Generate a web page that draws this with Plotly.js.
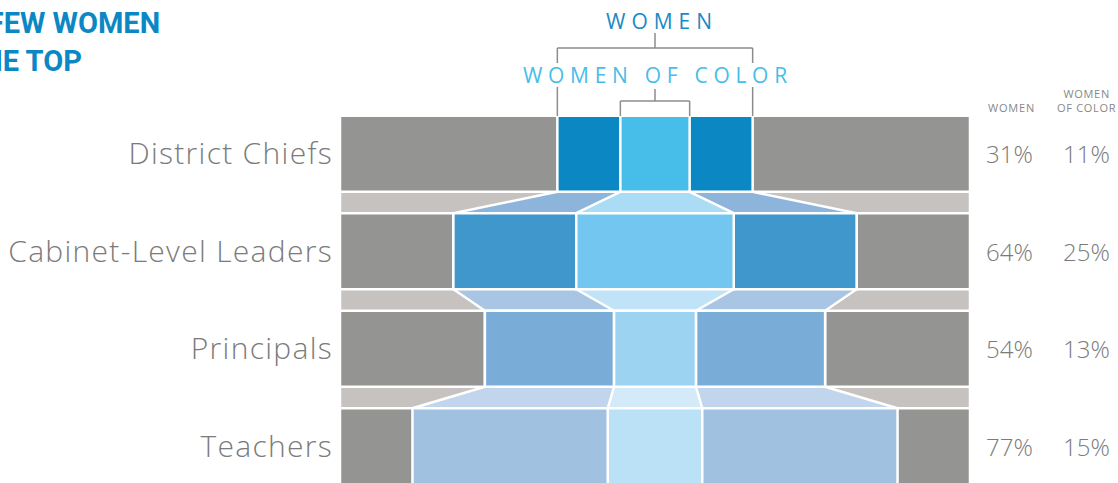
<!DOCTYPE html>
<html><head><meta charset="utf-8">
<script src="https://cdn.plot.ly/plotly-3.0.1.min.js"></script>
<style>html,body{margin:0;padding:0;background:#fff;overflow:hidden;} #chart{width:1118px;height:483px;}
#chart .ytick text{letter-spacing:1.3px;}</style>
</head><body><div id="chart"></div>
<script>
var categories = ['District Chiefs', 'Cabinet-Level Leaders', 'Principals', 'Teachers'];
var totalPct = [100, 100, 100, 100];
var womenPct = [31, 64, 54, 77];
var womenOfColorPct = [11, 25, 13, 15];
var womenLabels = ['31%', '64%', '54%', '77%'];
var wocLabels = ['11%', '25%', '13%', '15%'];

var greyColor = '#949492';
var greyConnector = '#c6c2c0';
var womenColors = ['#0b88c4', '#4097cc', '#79acd7', '#a1c1e0'];
var wocColors = ['#47bde9', '#73c6ef', '#9cd3f1', '#bae1f5'];
var womenConnectorColors = ['#8db5dc', '#a9c5e4', '#c1d6ec'];
var wocConnectorColors = ['#aadcf5', '#c0e3f7', '#d4eaf8'];

var W = 1118, H = 483, ML = 340, MR = 148, MT = 105, MB = 0;
var plotW = W - ML - MR, plotH = H - MT - MB;
function px2x(px) { return (px - ML) / plotW; }
function py2y(py) { return (H - MB - py) / plotH; }

var traces = [];
traces.push({
  type: 'funnel', orientation: 'h', y: categories, x: totalPct,
  marker: {color: greyColor, line: {color: '#ffffff', width: 2.5}},
  connector: {fillcolor: greyConnector, line: {color: '#ffffff', width: 2.5}},
  textinfo: 'none', hoverinfo: 'skip'
});
function addPairs(values, colors, connColors) {
  for (var i = 0; i < categories.length - 1; i++) {
    traces.push({
      type: 'funnel', orientation: 'h',
      y: [categories[i], categories[i + 1]],
      x: [values[i], values[i + 1]],
      marker: {color: [colors[i], colors[i + 1]], line: {color: '#ffffff', width: 2.5}},
      connector: {fillcolor: connColors[i], line: {color: '#ffffff', width: 2.5}},
      textinfo: 'none', hoverinfo: 'skip'
    });
  }
}
addPairs(womenPct, womenColors, womenConnectorColors);
addPairs(womenOfColorPct, wocColors, wocConnectorColors);

var labelFont = 'Open Sans';
var grey = '#7b7b7b';
var annotations = [];
for (var i = 0; i < categories.length; i++) {
  annotations.push({xref: 'paper', yref: 'y', x: px2x(1009), y: i, text: womenLabels[i],
    showarrow: false, xanchor: 'center', yanchor: 'middle',
    font: {family: labelFont, size: 24, color: grey, weight: 300}});
  annotations.push({xref: 'paper', yref: 'y', x: px2x(1086), y: i, text: wocLabels[i],
    showarrow: false, xanchor: 'center', yanchor: 'middle',
    font: {family: labelFont, size: 24, color: grey, weight: 300}});
}
annotations.push({xref: 'paper', yref: 'paper', x: px2x(1011), y: py2y(108), text: '<span style="letter-spacing:0.8px">WOMEN</span>',
  showarrow: false, xanchor: 'center', yanchor: 'middle',
  font: {family: labelFont, size: 11, color: '#888888'}});
annotations.push({xref: 'paper', yref: 'paper', x: px2x(1086), y: py2y(101), text: '<span style="letter-spacing:0.7px">WOMEN</span><br><span style="letter-spacing:0.7px">OF COLOR</span>',
  showarrow: false, xanchor: 'center', yanchor: 'middle', align: 'center',
  font: {family: labelFont, size: 11, color: '#888888'}});
annotations.push({xref: 'paper', yref: 'paper', x: px2x(661.5), y: py2y(21), text: '<span style="letter-spacing:6px">WOMEN</span>',
  showarrow: false, xanchor: 'center', yanchor: 'middle',
  font: {family: labelFont, size: 21, color: '#1a8ac4'}});
annotations.push({xref: 'paper', yref: 'paper', x: px2x(658), y: py2y(75), text: '<span style="letter-spacing:5.7px">WOMEN OF COLOR</span>',
  showarrow: false, xanchor: 'center', yanchor: 'middle',
  font: {family: labelFont, size: 21, color: '#48bde8'}});
annotations.push({xref: 'paper', yref: 'paper', x: px2x(-79), y: py2y(4), text: 'TOO FEW WOMEN<br>AT THE TOP',
  showarrow: false, xanchor: 'left', yanchor: 'top', align: 'left',
  font: {family: 'Roboto', size: 29, color: '#0b88c4', weight: 700}});

var bracketColor = '#8c8c8c';
var wHalf = womenPct[0] / 2, cHalf = womenOfColorPct[0] / 2;
function vline(x, py0, py1) {
  return {type: 'line', xref: 'x', yref: 'paper', x0: x, x1: x, y0: py2y(py0), y1: py2y(py1),
    line: {color: bracketColor, width: 1.5}};
}
function hline(x0, x1, py) {
  return {type: 'line', xref: 'x', yref: 'paper', x0: x0, x1: x1, y0: py2y(py), y1: py2y(py),
    line: {color: bracketColor, width: 1.5}};
}
var shapes = [
  vline(0, 33, 48), hline(-wHalf, wHalf, 48),
  vline(-wHalf, 48, 63), vline(wHalf, 48, 63),
  vline(-wHalf, 87, 116), vline(wHalf, 87, 116),
  vline(0, 89, 101), hline(-cHalf, cHalf, 101),
  vline(-cHalf, 101, 116), vline(cHalf, 101, 116)
];

var pxPerUnit = 97.5;
var layout = {
  width: W, height: H,
  margin: {l: ML, r: MR, t: MT, b: MB, pad: 0},
  paper_bgcolor: '#ffffff', plot_bgcolor: '#ffffff',
  showlegend: false,
  funnelmode: 'overlay', funnelgap: 0.22,
  xaxis: {range: [-50, 50], visible: false, fixedrange: true},
  yaxis: {type: 'category', categoryorder: 'array', categoryarray: categories,
    range: [-0.5 + plotH / pxPerUnit, -0.5], showgrid: false, zeroline: false, showline: false,
    ticks: '', ticklabelstandoff: 6,
    tickfont: {family: labelFont, size: 30, color: grey, weight: 300}, fixedrange: true},
  annotations: annotations,
  shapes: shapes
};
Plotly.newPlot('chart', traces, layout, {displayModeBar: false, staticPlot: true});
</script></body></html>
